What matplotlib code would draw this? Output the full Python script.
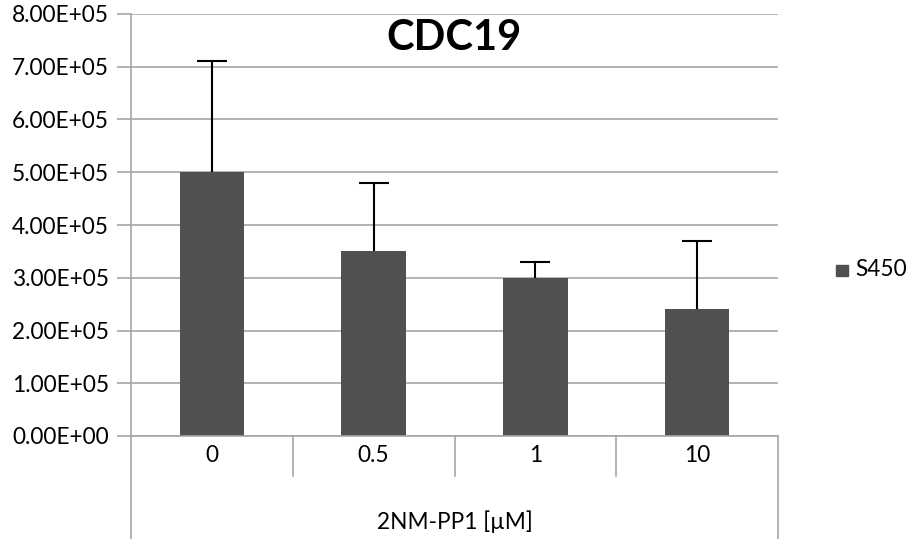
import numpy as np
import matplotlib.pyplot as plt
import matplotlib.transforms as mtransforms

categories = ['0', '0.5', '1', '10']
values = [5.0e5, 3.5e5, 3.0e5, 2.4e5]
errors_up = [2.1e5, 1.3e5, 0.3e5, 1.3e5]
yticks = np.arange(0, 8.01e5, 1e5)

plt.rcParams['font.family'] = ['Lato', 'DejaVu Sans']
fs = 16.3

fig = plt.figure(figsize=(9.09, 5.39), dpi=100)
ax = fig.add_axes([131/909, 1 - 436/539, (778 - 131)/909, (436 - 14)/539])

x = np.arange(len(categories))
bars = ax.bar(x, values, width=0.4, color='#505050', zorder=3,
              yerr=[np.zeros(len(values)), errors_up],
              error_kw=dict(ecolor='black', elinewidth=1.5, capsize=11, capthick=1.5, zorder=4))
# only keep upper caps
bars.errorbar.lines[1][0].set_visible(False)

ax.set_xlim(-0.5, len(categories) - 0.5)
ax.set_ylim(0, 8e5)
ax.set_yticks(yticks)
ax.set_yticklabels(['%.2fE+%02d' % (v / 1e5 if v else 0, 5 if v else 0) for v in yticks],
                   fontsize=fs)
ax.yaxis.grid(True, color='#a6a6a6', linewidth=1.2, zorder=0)
ax.tick_params(axis='y', length=10, color='#a6a6a6', width=1.2, pad=6)
ax.set_xticks([])
for s in ['top', 'right', 'bottom']:
    ax.spines[s].set_visible(False)
ax.spines['left'].set_color('#a6a6a6')
ax.spines['left'].set_linewidth(1.2)

# category axis drawn below in Excel style
trans = mtransforms.blended_transform_factory(ax.transData, ax.transAxes)
ax.plot([-0.5, len(categories) - 0.5], [0, 0], color='#a6a6a6', lw=1.2,
        transform=trans, clip_on=False, zorder=5)
for b in np.arange(-0.5, len(categories), 1.0):
    bottom = -0.244 if b in (-0.5, len(categories) - 0.5) else -0.095
    ax.plot([b, b], [0, bottom], color='#a6a6a6', lw=1.2, transform=trans, clip_on=False)
for i, c in enumerate(categories):
    ax.text(i, -0.047, c, transform=trans, ha='center', va='center', fontsize=fs)
ax.text((len(categories) - 1) / 2, -0.204, '2NM-PP1 [\u00b5M]', transform=trans,
        ha='center', va='center', fontsize=fs)

ax.text(0.5, 0.943, 'CDC19', transform=ax.transAxes, ha='center', va='center',
        fontsize=30, fontweight='bold')

# legend
fig.patches.append(plt.Rectangle((836/909, 1 - 276/539), 12/909, 11/539,
                                 transform=fig.transFigure, color='#505050'))
fig.text(855/909, 1 - 270/539, 'S450', ha='left', va='center', fontsize=fs)

fig.savefig('out.png', dpi=100)
